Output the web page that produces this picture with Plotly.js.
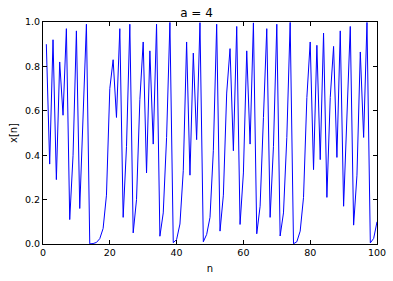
<!DOCTYPE html>
<html>
<head>
<meta charset="utf-8">
<script src="https://cdn.plot.ly/plotly-3.0.1.min.js"></script>
<style>html,body{margin:0;padding:0;background:#fff;}#chart{width:393px;height:281px;}</style>
</head>
<body>
<div id="chart"></div>
<script>
// n index (1..100)
const n = [];
for (let i = 1; i <= 100; i++) n.push(i);

// x[n] values
const xValues = [
  0.90, 0.36, 0.92, 0.29, 0.82, 0.58, 0.97, 0.11, 0.40, 0.96,
  0.16, 0.54, 0.99, 0.0005, 0.002, 0.007, 0.024, 0.07, 0.22, 0.70,
  0.83, 0.57, 0.97, 0.12, 0.44, 0.99, 0.05, 0.20, 0.65, 0.91,
  0.32, 0.87, 0.45, 0.99, 0.035, 0.14, 0.48, 0.998, 0.006, 0.02,
  0.09, 0.33, 0.91, 0.31, 0.86, 0.47, 0.997, 0.01, 0.043, 0.12,
  0.42, 0.99, 0.058, 0.22, 0.68, 0.88, 0.42, 0.98, 0.088, 0.32,
  0.87, 0.45, 0.996, 0.046, 0.17, 0.57, 0.97, 0.12, 0.44, 0.99,
  0.036, 0.14, 0.48, 0.998, 0.001, 0.01, 0.058, 0.21, 0.66, 0.91,
  0.335, 0.895, 0.38, 0.95, 0.21, 0.66, 0.89, 0.39, 0.96, 0.17,
  0.56, 0.98, 0.085, 0.31, 0.865, 0.48, 0.998, 0.005, 0.025, 0.10
];

const xTickVals = [0, 20, 40, 60, 80, 100];
const yTickVals = [0.0, 0.2, 0.4, 0.6, 0.8, 1.0];
const yTickText = ['0.0', '0.2', '0.4', '0.6', '0.8', '1.0'];

const font = 'DejaVu Sans, sans-serif';

Plotly.newPlot('chart', [{
  x: n,
  y: xValues,
  type: 'scatter',
  mode: 'lines',
  line: {color: '#0000ff', width: 1}
}], {
  width: 393,
  height: 281,
  margin: {l: 43, r: 16, t: 22, b: 37},
  paper_bgcolor: '#ffffff',
  plot_bgcolor: '#ffffff',
  showlegend: false,
  font: {family: font, color: '#000', size: 9.5},
  title: {
    text: 'a = 4',
    font: {family: font, size: 12, color: '#000'},
    x: 0.5, xanchor: 'center',
    y: 1 - 13 / 281, yanchor: 'middle', yref: 'container'
  },
  xaxis: {
    range: [0, 100],
    tickvals: xTickVals,
    ticktext: xTickVals.map(String),
    ticks: 'inside', ticklen: 4, tickcolor: '#000', tickwidth: 1,
    showline: true, linecolor: '#000', linewidth: 1, mirror: 'ticks',
    showgrid: false, zeroline: false,
    tickfont: {family: font, size: 9.5, color: '#000'},
    title: {text: 'n', font: {family: font, size: 10, color: '#000'}, standoff: 7}
  },
  yaxis: {
    range: [0, 1],
    tickvals: yTickVals,
    ticktext: yTickText,
    ticks: 'inside', ticklen: 4, tickcolor: '#000', tickwidth: 1,
    showline: true, linecolor: '#000', linewidth: 1, mirror: 'ticks',
    showgrid: false, zeroline: false,
    tickfont: {family: font, size: 9.5, color: '#000'},
    title: {text: 'x[n]', font: {family: font, size: 10, color: '#000'}, standoff: 5}
  }
}, {displayModeBar: false, staticPlot: true});
</script>
</body>
</html>
